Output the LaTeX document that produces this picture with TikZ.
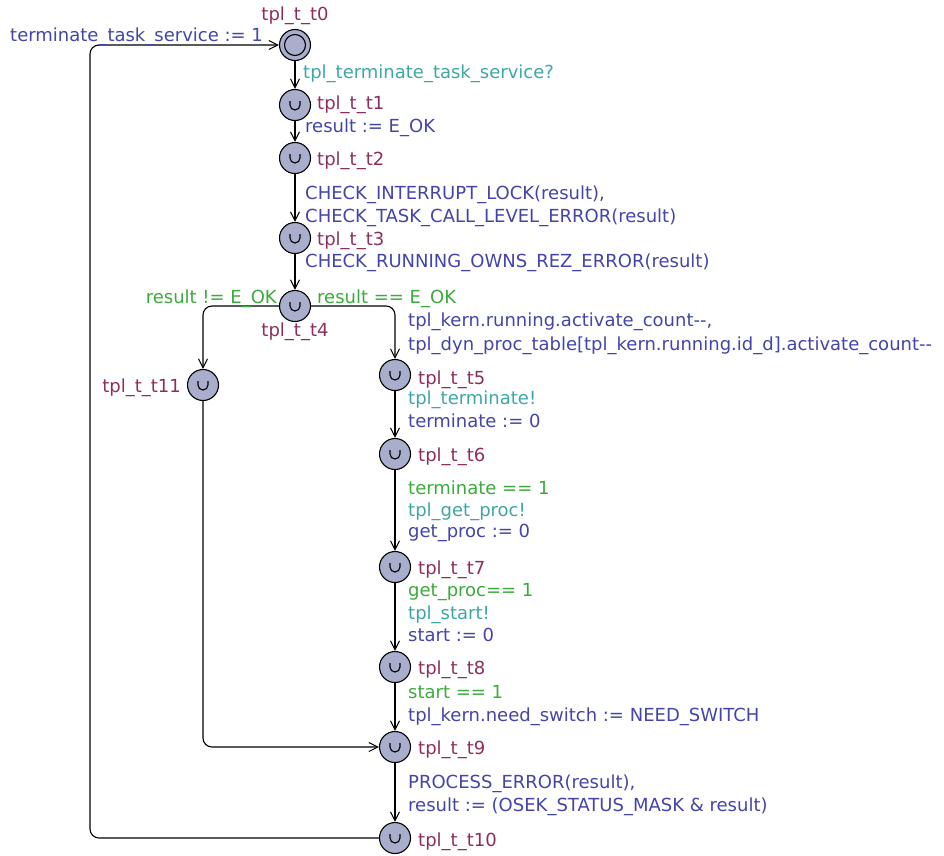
\documentclass[tikz,border=0pt]{standalone}
\usepackage{fontspec}
\setmainfont{DejaVu Sans}
\usetikzlibrary{arrows.meta}
\definecolor{locfill}{HTML}{A8AECB}
\definecolor{namec}{HTML}{8E2E5E}
\definecolor{asgc}{HTML}{4444AA}
\definecolor{grdc}{HTML}{3CAA3C}
\definecolor{syncc}{HTML}{3FA6A6}
\begin{document}
\begin{tikzpicture}[x=1pt,y=-1pt,
  font=\fontsize{18}{21}\selectfont,
  loc/.style={circle, draw, fill=locfill, minimum size=31pt, inner sep=0pt, line width=1.1pt},
  committed/.style={loc, path picture={\draw[line width=1.1pt] ([xshift=-5pt,yshift=4pt]path picture bounding box.center) -- ++(0pt,-4pt) arc (180:360:5pt) -- ++(0pt,4pt);}},
  initloc/.style={loc, path picture={\draw[line width=1.1pt] (path picture bounding box.center) circle (10.5pt);}},
  edge/.style={draw, line width=1.1pt, -{Straight Barb[length=9pt,width=9pt,line width=1pt]}, rounded corners=9pt},
  lbl/.style={anchor=base west, inner sep=0pt},
  nm/.style={lbl, text=namec},
  asg/.style={lbl, text=asgc},
  grd/.style={lbl, text=grdc},
  syn/.style={lbl, text=syncc}]
\useasboundingbox (0,0) rectangle (944,855);
% locations
\node[initloc] (t0) at (295,45) {};
\node[committed] (t1) at (295,105) {};
\node[committed] (t2) at (295,158) {};
\node[committed] (t3) at (295,238) {};
\node[committed] (t4) at (295,306) {};
\node[committed] (t11) at (203,385) {};
\node[committed] (t5) at (395,375) {};
\node[committed] (t6) at (395,454) {};
\node[committed] (t7) at (395,567) {};
\node[committed] (t8) at (395,667) {};
\node[committed] (t9) at (395,747) {};
\node[committed] (t10) at (395,838) {};
% names
\node[nm, anchor=base] (n0) at (295,20) {tpl\_t\_t0};
\node[nm] (n1) at (317,109) {tpl\_t\_t1};
\node[nm] (n2) at (317,165) {tpl\_t\_t2};
\node[nm] (n3) at (317,245) {tpl\_t\_t3};
\node[nm, anchor=base] (n4) at (295,336) {tpl\_t\_t4};
\node[nm, anchor=base east] (n11) at (181,392) {tpl\_t\_t11};
\node[nm] (n5) at (418,384) {tpl\_t\_t5};
\node[nm] (n6) at (418,461) {tpl\_t\_t6};
\node[nm] (n7) at (418,574) {tpl\_t\_t7};
\node[nm] (n8) at (418,674) {tpl\_t\_t8};
\node[nm] (n9) at (418,754) {tpl\_t\_t9};
\node[nm] (n10) at (418,846) {tpl\_t\_t10};
% edges
\coordinate (c1) at (90,838);
\coordinate (c2) at (90,45);
\draw[edge] (t10.west) -- (c1) -- (c2) -- (t0.west);
\draw[edge] (t0) -- (t1);
\draw[edge] (t1) -- (t2);
\draw[edge] (t2) -- (t3);
\draw[edge] (t3) -- (t4);
\draw[edge] (t4.west) -| (t11.north);
\draw[edge] (t4.east) -| (t5.north);
\draw[edge] (t11.south) |- (t9.west);
\draw[edge] (t5) -- (t6);
\draw[edge] (t6) -- (t7);
\draw[edge] (t7) -- (t8);
\draw[edge] (t8) -- (t9);
\draw[edge] (t9) -- (t10);
% edge labels
\node[asg] (e0) at (10,41) {terminate\_task\_service := 1};
\node[syn] (e1) at (303,78) {tpl\_terminate\_task\_service?};
\node[asg] (e2) at (305,132) {result := E\_OK};
\node[asg] (e3a) at (305,199) {CHECK\_INTERRUPT\_LOCK(result),};
\node[asg] (e3b) at (305,222) {CHECK\_TASK\_CALL\_LEVEL\_ERROR(result)};
\node[asg] (e4) at (305,267) {CHECK\_RUNNING\_OWNS\_REZ\_ERROR(result)};
\node[grd, anchor=base east] (e5) at (277,303) {result != E\_OK};
\node[grd] (e6) at (317,303) {result == E\_OK};
\node[asg] (e6a) at (408,326) {tpl\_kern.running.activate\_count-{}-,};
\node[asg] (e6b) at (408,350) {tpl\_dyn\_proc\_table[tpl\_kern.running.id\_d].activate\_count-{}-};
\node[syn] (e7a) at (408,404) {tpl\_terminate!};
\node[asg] (e7b) at (408,427) {terminate := 0};
\node[grd] (e8a) at (408,494) {terminate == 1};
\node[syn] (e8b) at (408,516) {tpl\_get\_proc!};
\node[asg] (e8c) at (408,537) {get\_proc := 0};
\node[grd] (e9a) at (408,596) {get\_proc== 1};
\node[syn] (e9b) at (408,619) {tpl\_start!};
\node[asg] (e9c) at (408,641) {start := 0};
\node[grd] (e10a) at (408,698) {start == 1};
\node[asg] (e10b) at (408,721) {tpl\_kern.need\_switch := NEED\_SWITCH};
\node[asg] (e11a) at (408,788) {PROCESS\_ERROR(result),};
\node[asg] (e11b) at (408,811) {result := (OSEK\_STATUS\_MASK \& result)};
\end{tikzpicture}
\end{document}
